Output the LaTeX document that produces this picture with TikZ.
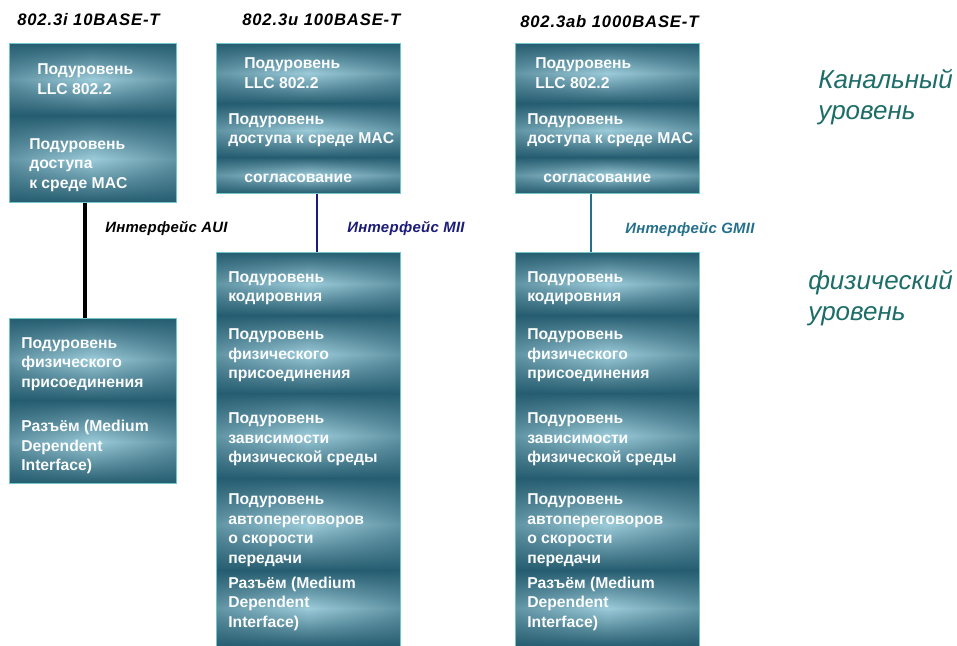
\documentclass[tikz,border=0pt]{standalone}
\usepackage{fontspec}
\setmainfont{Liberation Sans}
\usetikzlibrary{fadings}

\definecolor{bandDark}{HTML}{265D70}
\definecolor{bandLight}{HTML}{9DCCDA}
\definecolor{bandEdge}{HTML}{72C6CA}
\definecolor{miiBlue}{HTML}{1B1B78}
\definecolor{gmiiTeal}{HTML}{24708C}
\definecolor{levelGreen}{HTML}{1D6D68}

% darker left and right edges of every stack
\tikzfading[name=sides, left color=transparent!0, right color=transparent!0, middle color=transparent!100]

\tikzset{
  band/.style 2 args={anchor=north west, inner sep=0pt, minimum width=#1*0.75pt,
    minimum height=#2*0.75pt, top color=bandDark, bottom color=bandDark, middle color=bandLight},
  btext/.style={anchor=west, inner sep=0pt, align=left, text=white!95!bandLight,
    font=\fontsize{11.8}{14.6}\selectfont\bfseries, xshift=#1*0.75pt},
  stackedge/.style={bandDark, path fading=sides, fill opacity=0.5},
  stackline/.style={draw=bandEdge, line width=0.6pt},
  std/.style={anchor=west, inner sep=0pt,
    font=\fontsize{12.5}{14}\selectfont\bfseries\itshape\addfontfeatures{LetterSpace=5}},
  iface/.style={anchor=west, inner sep=0pt,
    font=\fontsize{11.2}{13}\selectfont\bfseries\itshape\addfontfeatures{LetterSpace=2}},
  level/.style={anchor=west, inner sep=0pt, align=left, text=levelGreen,
    font=\fontsize{19.5}{23.5}\selectfont\itshape}
}

\begin{document}
\begin{tikzpicture}[x=0.75pt, y=-0.75pt]
\useasboundingbox (0,0) rectangle (957,646);

% standards
\node[std] (s1) at (17,20) {802.3i 10BASE-T};
\node[std] (s2) at (242,20) {802.3u 100BASE-T};
\node[std] (s3) at (520,22) {802.3ab 1000BASE-T};

% 10BASE-T
\node[band={167}{72}] (c1llc) at (9,43) {};
\node[band={167}{87}] (c1mac) at (9,115) {};
\node[band={167}{82}] (c1pma) at (9,318) {};
\node[band={167}{83}] (c1mdi) at (9,400) {};
\fill[stackedge] (c1llc.north west) rectangle (c1mac.south east);
\fill[stackedge] (c1pma.north west) rectangle (c1mdi.south east);
\draw[stackline] (c1llc.north west) rectangle (c1mac.south east);
\draw[stackline] (c1pma.north west) rectangle (c1mdi.south east);
\node[btext=28] (c1llc-t) at (c1llc.west) {Подуровень\\LLC 802.2};
\node[btext=20, yshift=-4.5pt] (c1mac-t) at (c1mac.west) {Подуровень\\доступа\\к среде MAC};
\node[btext=12, yshift=-3.5pt] (c1pma-t) at (c1pma.west) {Подуровень\\физического\\присоединения};
\node[btext=12, yshift=-4pt] (c1mdi-t) at (c1mdi.west) {Разъём (Medium\\Dependent\\Interface)};

% 100BASE-T and 1000BASE-T
\foreach \c/\x/\i in {2/216/28, 3/515/20} {
  \node[band={184}{60}] (c\c llc) at (\x,43) {};
  \node[band={184}{54}] (c\c mac) at (\x,103) {};
  \node[band={184}{36}] (c\c rec) at (\x,157) {};
  \node[band={184}{63}] (c\c pcs) at (\x,252) {};
  \node[band={184}{78}] (c\c pma) at (\x,315) {};
  \node[band={184}{85}] (c\c pmd) at (\x,393) {};
  \node[band={184}{92}] (c\c an) at (\x,478) {};
  \node[band={184}{76}] (c\c mdi) at (\x,570) {};
  \fill[stackedge] (c\c llc.north west) rectangle (c\c rec.south east);
  \fill[stackedge] (c\c pcs.north west) rectangle (c\c mdi.south east);
  \draw[stackline] (c\c llc.north west) rectangle (c\c rec.south east);
  \draw[stackline] (c\c pcs.north west) rectangle (c\c mdi.south east);
  \node[btext=\i] (c\c llc-t) at (c\c llc.west) {Подуровень\\LLC 802.2};
  \node[btext=12] (c\c mac-t) at (c\c mac.west) {Подуровень\\доступа к среде MAC};
  \node[btext=28, yshift=-2pt] (c\c rec-t) at (c\c rec.west) {согласование};
  \node[btext=12, yshift=-3.5pt] (c\c pcs-t) at (c\c pcs.west) {Подуровень\\кодировния};
  \node[btext=12, yshift=-0.8pt] (c\c pma-t) at (c\c pma.west) {Подуровень\\физического\\присоединения};
  \node[btext=12, yshift=-2.8pt] (c\c pmd-t) at (c\c pmd.west) {Подуровень\\зависимости\\физической среды};
  \node[btext=12, yshift=-4.5pt] (c\c an-t) at (c\c an.west) {Подуровень\\автопереговоров\\о скорости\\передачи};
  \node[btext=12, yshift=3.5pt] (c\c mdi-t) at (c\c mdi.west) {Разъём (Medium\\Dependent\\Interface)};
}

% interfaces between the stacks
\draw[line width=3pt] (c1mac.south -| 85,0) -- (c1pma.north -| 85,0);
\draw[miiBlue, line width=2.2pt] (c2rec.south -| 317,0) -- (c2pcs.north -| 317,0);
\draw[gmiiTeal, line width=2.2pt] (c3rec.south -| 591,0) -- (c3pcs.north -| 591,0);
\node[iface] (aui) at (105,228) {Интерфейс AUI};
\node[iface, text=miiBlue] (mii) at (347,228) {Интерфейс MII};
\node[iface, text=gmiiTeal] (gmii) at (625,229) {Интерфейс GMII};

% levels
\node[level] (link) at (818,97) {Канальный\\уровень};
\node[level] (phy) at (808,298) {физический\\уровень};
\end{tikzpicture}
\end{document}
